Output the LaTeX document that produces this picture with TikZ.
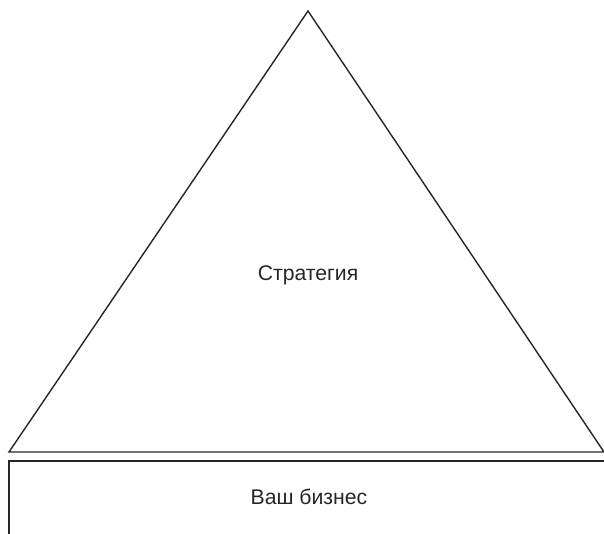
\documentclass[tikz,border=0pt]{standalone}
\usepackage{fontspec}
\setmainfont{Liberation Sans}
\begin{document}
\begin{tikzpicture}[x=1pt,y=-1pt,
  edge/.style={draw=black!85,line width=1.4pt},
  lbl/.style={font=\fontsize{21.2}{25}\selectfont,text=black!85,inner sep=0pt}]
\useasboundingbox (0,0) rectangle (604,534);
\coordinate (apex) at (308,11);
\coordinate (bl) at (9,452);
\coordinate (br) at (604,452);
\coordinate (rtl) at (9,461);
\coordinate (rtr) at (604,461);
\coordinate (rbl) at (9,534);
\draw[edge,line join=miter] (bl) -- (apex) -- (br) -- cycle;
\draw[edge] (rtr) -- (rtl) -- (rbl);
\node[lbl] (strat) at (308,275) {Стратегия};
\node[lbl] (biz) at (309,497) {Ваш бизнес};
\end{tikzpicture}
\end{document}
